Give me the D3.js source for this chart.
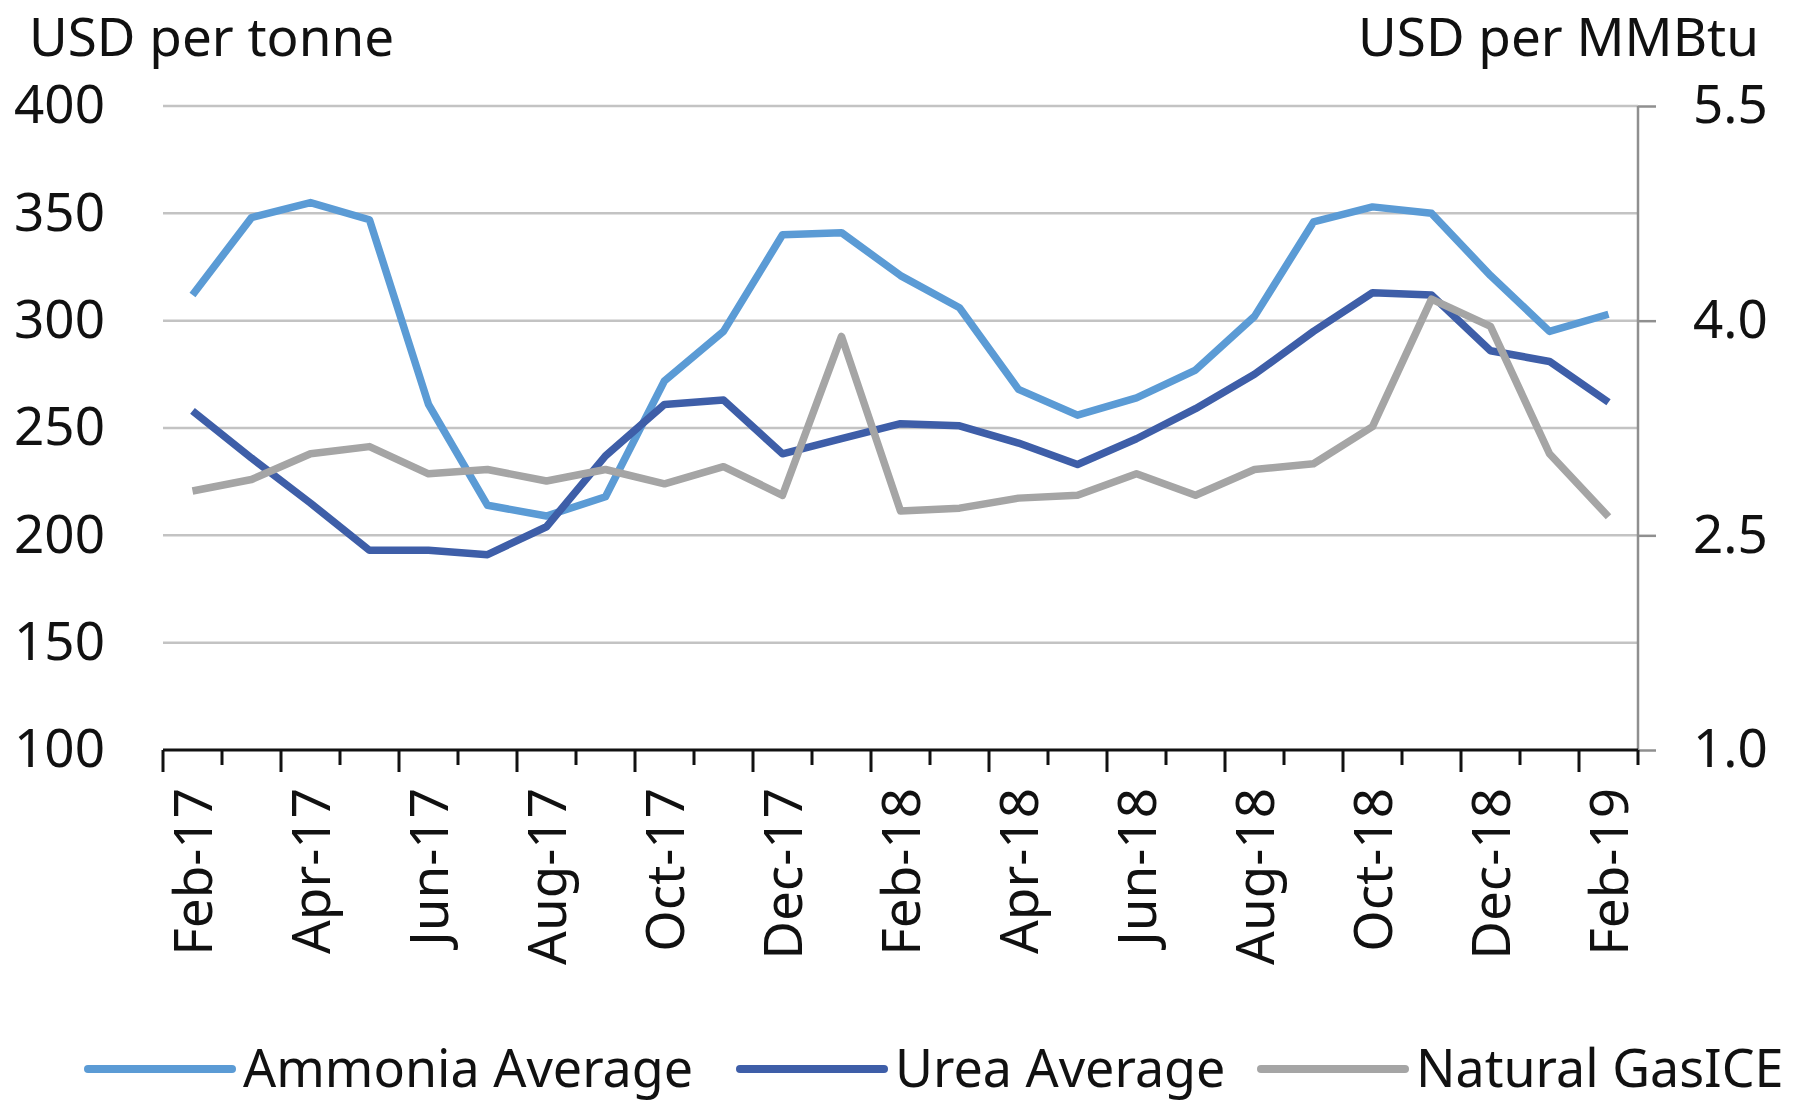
<!DOCTYPE html>
<html>
<head>
<meta charset="utf-8">
<script src="https://cdn.jsdelivr.net/npm/d3@7"></script>
<style>
  body { margin: 0; background: #fff; }
  svg text { font-family: "Noto Sans", "Open Sans", sans-serif; fill: #111; }
</style>
</head>
<body>
<div id="chart"></div>
<script>
const months = ["Feb-17", "Mar-17", "Apr-17", "May-17", "Jun-17", "Jul-17", "Aug-17", "Sep-17", "Oct-17", "Nov-17", "Dec-17", "Jan-18",
  "Feb-18", "Mar-18", "Apr-18", "May-18", "Jun-18", "Jul-18", "Aug-18", "Sep-18", "Oct-18", "Nov-18", "Dec-18", "Jan-19", "Feb-19"];

// USD per tonne (left axis)
const ammonia = [312, 348, 355, 347, 261, 214, 209, 218, 272, 295, 340, 341, 321, 306, 268, 256, 264, 277, 302, 346, 353, 350, 321, 295, 303];
const urea = [258, 236, 215, 193, 193, 191, 204, 237, 261, 263, 238, 245, 252, 251, 243, 233, 245, 259, 275, 295, 313, 312, 286, 281, 262];

// USD per MMBtu (right axis)
const gas = [2.81, 2.89, 3.07, 3.12, 2.93, 2.96, 2.88, 2.96, 2.86, 2.98, 2.78, 3.89, 2.67, 2.69, 2.76, 2.78, 2.93, 2.78, 2.96, 3.0, 3.26, 4.15, 3.96, 3.07, 2.63];

const leftTicks = [100, 150, 200, 250, 300, 350, 400];
const rightTicks = [1.0, 2.5, 4.0, 5.5];

const series = [
  { name: "Ammonia Average", values: ammonia, color: "#5b9bd5", axis: "left" },
  { name: "Urea Average", values: urea, color: "#3e5ea8", axis: "left" },
  { name: "Natural GasICE", values: gas, color: "#a5a5a5", axis: "right" },
];

const W = 1793, H = 1105;
const margin = { top: 106, right: 155, bottom: 355, left: 163 };
const width = W - margin.left - margin.right,
  height = H - margin.top - margin.bottom;

const svg = d3.select("#chart").append("svg").attr("width", W).attr("height", H);
const g = svg.append("g").attr("transform", `translate(${margin.left},${margin.top})`);

// Scales
const x = d3.scaleBand().domain(months).range([0, width]).padding(0);
const yL = d3.scaleLinear().domain([100, 400]).range([height, 0]);
const yR = d3.scaleLinear().domain([1.0, 5.5]).range([height, 0]);

// Gridlines
g.append("g")
  .selectAll("line")
  .data(leftTicks.slice(1))
  .enter()
  .append("line")
  .attr("x1", 0)
  .attr("x2", width)
  .attr("y1", (d) => yL(d))
  .attr("y2", (d) => yL(d))
  .attr("stroke", "#c3c3c3")
  .attr("stroke-width", 2.5);

// Left tick labels (no axis line)
const leftAxis = g.append("g").call(d3.axisLeft(yL).tickValues(leftTicks).tickSize(0).tickPadding(58));
leftAxis.select(".domain").remove();
leftAxis.selectAll("text").style("font-size", "53px").attr("font-family", null);

// Right axis
const rightAxis = g
  .append("g")
  .attr("transform", `translate(${width},0)`)
  .call(d3.axisRight(yR).tickValues(rightTicks).tickSize(18).tickPadding(37).tickFormat(d3.format(".1f")));
rightAxis.select(".domain").attr("stroke", "#8f8f8f").attr("stroke-width", 2.5).attr("d", `M0,0V${height}`);
rightAxis.selectAll(".tick line").attr("stroke", "#8f8f8f").attr("stroke-width", 2.5);
rightAxis.selectAll("text").style("font-size", "53px").attr("font-family", null);

// Bottom axis: boundary ticks, long at the labelled months
const bottom = g.append("g").attr("transform", `translate(0,${height})`);
bottom
  .selectAll(".btick")
  .data(d3.range(months.length + 1))
  .enter()
  .append("line")
  .attr("class", "btick")
  .attr("x1", (i) => i * x.step())
  .attr("x2", (i) => i * x.step())
  .attr("y1", 0)
  .attr("y2", (i) => (i % 2 === 0 && i < months.length ? 22 : 15))
  .attr("stroke", "#111")
  .attr("stroke-width", 3);
bottom.append("line").attr("x1", 0).attr("x2", width).attr("stroke", "#111").attr("stroke-width", 3);

const xAxis = bottom.append("g").call(
  d3
    .axisBottom(x)
    .tickValues(months.filter((d, i) => i % 2 === 0))
    .tickSize(0)
);
xAxis.select(".domain").remove();
xAxis
  .selectAll("text")
  .style("font-size", "53px")
  .attr("font-family", null)
  .attr("transform", "rotate(-90)")
  .attr("text-anchor", "end")
  .attr("dy", "0.36em")
  .attr("x", -38)
  .attr("y", 0);

// Lines
const line = (s) =>
  d3
    .line()
    .x((d, i) => x(months[i]) + x.bandwidth() / 2)
    .y((d) => (s.axis === "left" ? yL(d) : yR(d)));

series.forEach((s) => {
  g.append("path")
    .datum(s.values)
    .attr("fill", "none")
    .attr("stroke", s.color)
    .attr("stroke-width", 7.5)
    .attr("stroke-linejoin", "round")
    .attr("d", line(s));
});

// Axis titles
svg.append("text").attr("x", 29).attr("y", 56).style("font-size", "53px").text("USD per tonne");
svg.append("text").attr("x", 1759).attr("y", 56).attr("text-anchor", "end").style("font-size", "53px").text("USD per MMBtu");

// Legend
const legendX = [88, 740, 1261];
const legend = svg
  .selectAll(".legend")
  .data(series)
  .enter()
  .append("g")
  .attr("class", "legend")
  .attr("transform", (d, i) => `translate(${legendX[i]},1069)`);
legend.append("line").attr("x1", 0).attr("x2", 144).attr("stroke", (d) => d.color).attr("stroke-width", 8).attr("stroke-linecap", "round");
legend
  .append("text")
  .attr("x", 155)
  .attr("y", 18)
  .style("font-size", "52px")
  .text((d) => d.name);
</script>
</body>
</html>
